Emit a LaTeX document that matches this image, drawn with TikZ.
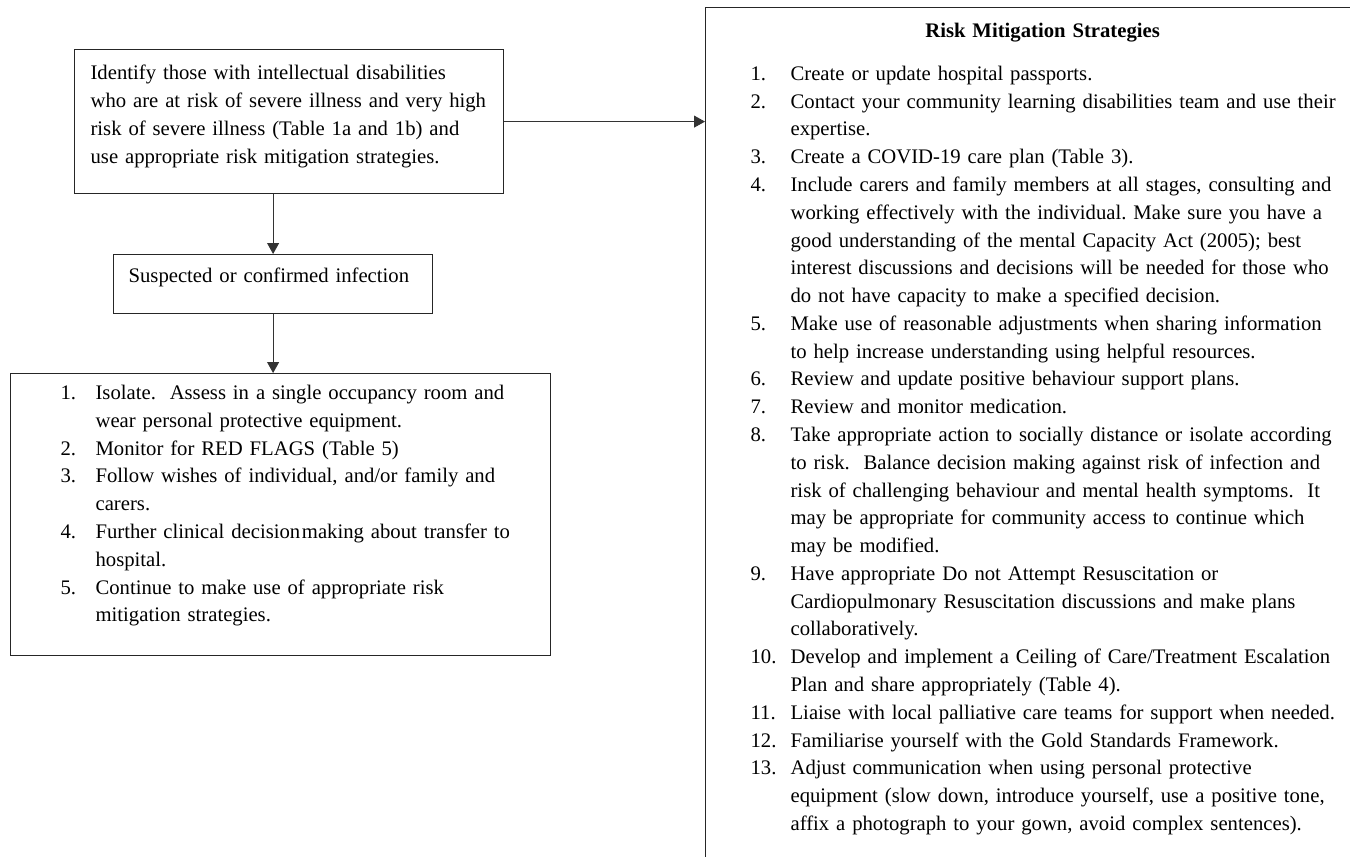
\documentclass[tikz,border=0pt]{standalone}
\usepackage{fontspec}
\setmainfont{Liberation Serif}
\usetikzlibrary{arrows.meta}
\frenchspacing
\begin{document}
\begin{tikzpicture}[x=1pt,y=-1pt,
  box/.style={draw=black!85, line width=1.2pt, anchor=north west, inner ysep=0pt, align=left,
    font=\fontsize{20.7}{27.78}\selectfont\frenchspacing},
  arr/.style={draw=black!80, line width=0.9pt, -{Triangle[width=12pt,length=11pt]}}]
\useasboundingbox (0,0) rectangle (1350,857);
\begin{scope}
\clip (0,0) rectangle (1350,857);
\node[box, inner xsep=16pt, text width=397pt, text height=29.5pt, text depth=114.5pt] (box1) at (74,49)
 {\fontsize{20.7}{28.2}\selectfont\begin{tabular}[t]{@{}l@{}}
  Identify those with intellectual disabilities\\
  who are at risk of severe illness and very high\\
  risk of severe illness (Table 1a and 1b) and\\
  use appropriate risk mitigation strategies.
  \end{tabular}};
\node[box, inner xsep=15pt, text width=289pt, text height=28pt, text depth=31pt] (box2) at (113,254)
 {Suspected or confirmed infection};
\node[box, inner xsep=0pt, text width=540pt, text height=26pt, text depth=256pt] (box3) at (10,373)
 {\begin{tabular}[t]{@{\hspace*{50pt}}p{35pt}@{}l@{}}
  1. & Isolate.\ \ Assess in a single occupancy room and\\
     & wear personal protective equipment.\\
  2. & Monitor for RED FLAGS (Table 5)\\
  3. & Follow wishes of individual, and/or family and\\
     & carers.\\
  4. & Further clinical decision\hspace{0.08em}making about transfer to\\
     & hospital.\\
  5. & Continue to make use of appropriate risk\\
     & mitigation strategies.
  \end{tabular}};
\node[box, inner xsep=0pt, text width=674pt, text height=30pt, text depth=900pt] (box4) at (705,7)
 {\makebox[\linewidth]{\bfseries Risk Mitigation Strategies}\par\vspace{15pt}%
  \begin{tabular}[t]{@{\hspace*{45pt}}p{40pt}@{}l@{}}
  1. & Create or update hospital passports.\\
  2. & Contact your community learning disabilities team and use their\\
     & expertise.\\
  3. & Create a COVID-19 care plan (Table 3).\\
  4. & Include carers and family members at all stages, consulting and\\
     & working effectively with the individual. Make sure you have a\\
     & good understanding of the mental Capacity Act (2005); best\\
     & interest discussions and decisions will be needed for those who\\
     & do not have capacity to make a specified decision.\\
  5. & Make use of reasonable adjustments when sharing information\\
     & to help increase understanding using helpful resources.\\
  6. & Review and update positive behaviour support plans.\\
  7. & Review and monitor medication.\\
  8. & Take appropriate action to socially distance or isolate according\\
     & to risk.\ \ Balance decision making against risk of infection and\\
     & risk of challenging behaviour and mental health symptoms.\ \ It\\
     & may be appropriate for community access to continue which\\
     & may be modified.\\
  9. & Have appropriate Do not Attempt Resuscitation or\\
     & Cardiopulmonary Resuscitation discussions and make plans\\
     & collaboratively.\\
  10. & Develop and implement a Ceiling of Care/Treatment Escalation\\
     & Plan and share appropriately (Table 4).\\
  11. & Liaise with local palliative care teams for support when needed.\\
  12. & Familiarise yourself with the Gold Standards Framework.\\
  13. & Adjust communication when using personal protective\\
     & equipment (slow down, introduce yourself, use a positive tone,\\
     & affix a photograph to your gown, avoid complex sentences).
  \end{tabular}};
\draw[arr] (box1.east) -- (box1.east -| box4.west);
\draw[arr] (box2.north |- box1.south) -- (box2.north);
\draw[arr] (box2.south) -- (box2.south |- box3.north);
\end{scope}
\end{tikzpicture}
\end{document}
